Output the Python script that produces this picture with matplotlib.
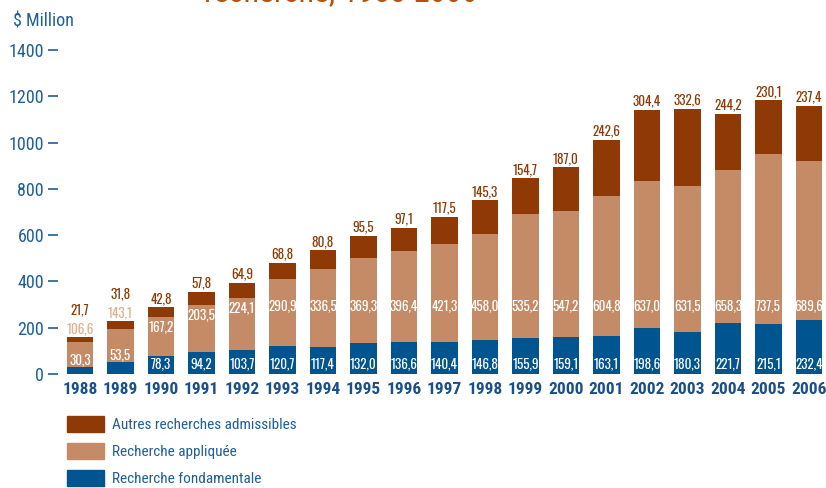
import numpy as np
import matplotlib
matplotlib.use("Agg")
import matplotlib.pyplot as plt
from matplotlib.patches import Patch

plt.rcParams['font.family'] = ['Roboto Condensed', 'Archivo Narrow', 'DejaVu Sans']
label_font = ['Oswald', 'Roboto Condensed', 'DejaVu Sans']

years = ['1988', '1989', '1990', '1991', '1992', '1993', '1994', '1995', '1996', '1997',
         '1998', '1999', '2000', '2001', '2002', '2003', '2004', '2005', '2006']
fondamentale = [30.3, 53.5, 78.3, 94.2, 103.7, 120.7, 117.4, 132.0, 136.6, 140.4,
                146.8, 155.9, 159.1, 163.1, 198.6, 180.3, 221.7, 215.1, 232.4]
appliquee = [106.6, 143.1, 167.2, 203.5, 224.1, 290.9, 336.5, 369.3, 396.4, 421.3,
             458.0, 535.2, 547.2, 604.8, 637.0, 631.5, 658.3, 737.5, 689.6]
autres = [21.7, 31.8, 42.8, 57.8, 64.9, 68.8, 80.8, 95.5, 97.1, 117.5,
          145.3, 154.7, 187.0, 242.6, 304.4, 332.6, 244.2, 230.1, 237.4]

c_blue = '#00548f'
c_tan = '#c58b66'
c_brown = '#8f3a06'
c_text = '#1f5f99'

def fmt(v):
    return ('%.1f' % v).replace('.', ',')

fig = plt.figure(figsize=(8.26, 4.88), dpi=100)
ax = fig.add_axes([58/826, 1-374/488, 1-58/826, (374-50)/488])

x = np.arange(len(years))
f = np.array(fondamentale)
a = np.array(appliquee)
o = np.array(autres)
w = 0.655
ax.bar(x, f, w, color=c_blue, label='Recherche fondamentale')
ax.bar(x, a, w, bottom=f, color=c_tan, label='Recherche appliquée')
ax.bar(x, o, w, bottom=f + a, color=c_brown, label='Autres recherches admissibles')

lab = dict(ha='center', va='center', fontsize=9.5, fontweight='bold', family=label_font)
for i in range(len(years)):
    top = f[i] + a[i] + o[i]
    if f[i] < 60:
        ax.text(x[i], f[i] + 30, fmt(f[i]), color='white', **lab)
        ax.annotate(fmt(a[i]), (x[i], top), xytext=(0, 6), textcoords='offset points',
                    color='#e0b08f', **lab)
        ax.annotate(fmt(o[i]), (x[i], top), xytext=(0, 20), textcoords='offset points',
                    color=c_brown, **lab)
    else:
        ax.text(x[i], 43, fmt(f[i]), color='white', **lab)
        ax.text(x[i], min(294, f[i] + a[i] - 42), fmt(a[i]), color='white', **lab)
        ax.annotate(fmt(o[i]), (x[i], top), xytext=(0, 6.5), textcoords='offset points',
                    color=c_brown, **lab)

ax.set_xlim(-0.54, 18.42)
ax.set_ylim(0, 1400)
ax.set_yticks(range(0, 1401, 200))
ax.set_xticks(x)
ax.set_xticklabels(years, fontsize=12.5, fontweight='bold', color='#1a4f8a')
ax.tick_params(axis='x', length=0, pad=6)
ax.tick_params(axis='y', length=7, width=1.2, color=c_text, labelcolor=c_text,
               labelsize=13, pad=3)
for s in ax.spines.values():
    s.set_visible(False)

fig.text(13/826, 1-22/488, '$ Million', fontsize=13, color=c_text, va='center')
fig.text(204/826, 1-1.5/488, 'recherche, 1988-2006', fontsize=23, color='#b5520f',
         va='baseline')

handles = [Patch(color=c_brown), Patch(color=c_tan), Patch(color=c_blue)]
names = ['Autres recherches admissibles', 'Recherche appliquée', 'Recherche fondamentale']
fig.legend(handles, names, loc='upper left', bbox_to_anchor=(61/826, 1-410/488),
           frameon=False, fontsize=11, labelcolor=c_text, handlelength=2.4,
           handleheight=1.2, labelspacing=0.72, handletextpad=0.55, borderaxespad=0)

fig.savefig('out.png', dpi=100)
